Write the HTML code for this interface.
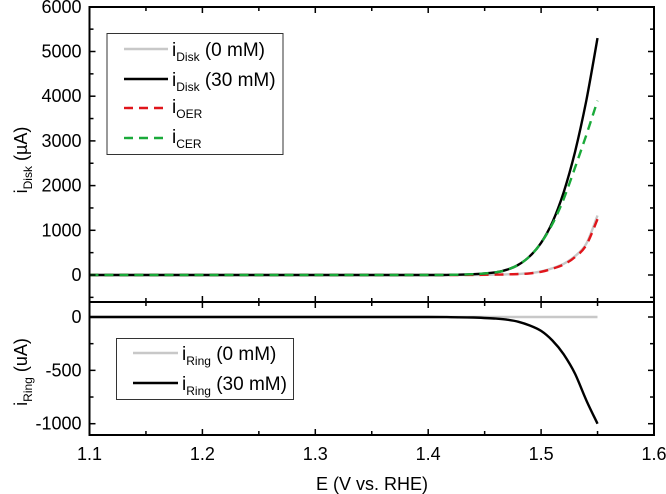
<!DOCTYPE html>
<html><head><meta charset="utf-8"><style>
body{margin:0;background:#fff}
svg{display:block;font-family:"Liberation Sans",Arial,sans-serif}
</style></head><body>
<svg id="c" width="666" height="494"></svg>
<script>
const xs=[1.10,1.20,1.30,1.40,1.42,1.44,1.46,1.47,1.48,1.49,1.50,1.51,1.52,1.53,1.54,1.55];
const disk30=[0,0,0,0,5,18,60,120,230,420,720,1180,1850,2750,3900,5300];
const disk0=[0,0,0,0,0,2,8,15,25,40,80,150,250,420,700,1330];
const iOER=[0,0,0,0,0,2,8,14,22,36,72,140,235,400,670,1250];
const iCER=[0,0,0,0,5,18,60,120,230,420,720,1140,1700,2400,3130,3900];
const ring0=[0,0,0,0,0,0,0,0,0,0,0,0,0,0,0,0];
const ring30=[0,0,0,0,-2,-5,-15,-25,-45,-80,-130,-220,-350,-530,-780,-1000];
const xTicks=[1.1,1.2,1.3,1.4,1.5,1.6];
const topTicks=[0,1000,2000,3000,4000,5000,6000];
const botTicks=[0,-500,-1000];

const NS="http://www.w3.org/2000/svg",svg=document.getElementById('c');
const L=89.5,R=654,T1=7,B1=302,T2=302,B2=435;
const X=v=>L+(v-1.1)/0.5*(R-L);
const Y1=v=>275-v*0.0447;
const Y2=v=>317-v*0.1067;
function el(t,a,p){const e=document.createElementNS(NS,t);for(const k in a)e.setAttribute(k,a[k]);(p||svg).appendChild(e);return e;}
function line(x1,y1,x2,y2,w){return el('line',{x1,y1,x2,y2,stroke:'#000','stroke-width':w||1.5});}
function smooth(pts){let d='M'+pts[0][0].toFixed(1)+','+pts[0][1].toFixed(1);
for(let i=0;i<pts.length-1;i++){const p0=pts[Math.max(0,i-1)],p1=pts[i],p2=pts[i+1],p3=pts[Math.min(pts.length-1,i+2)];
let c1x=p1[0]+(p2[0]-p0[0])/6,c1y=p1[1]+(p2[1]-p0[1])/6,c2x=p2[0]-(p3[0]-p1[0])/6,c2y=p2[1]-(p3[1]-p1[1])/6;
const lo=Math.min(p1[1],p2[1]),hi=Math.max(p1[1],p2[1]);c1y=Math.min(hi,Math.max(lo,c1y));c2y=Math.min(hi,Math.max(lo,c2y));
d+='C'+c1x.toFixed(1)+','+c1y.toFixed(1)+' '+c2x.toFixed(1)+','+c2y.toFixed(1)+' '+p2[0].toFixed(1)+','+p2[1].toFixed(1);}
return d;}
function pth(arr,Y,col,dash,name){const d=smooth(arr.map((v,i)=>[X(xs[i]),Y(v)]));
const p=el('path',{d,fill:'none',stroke:col,'stroke-width':2.4,'stroke-dasharray':dash||'none'});

}
pth(disk0,Y1,'#c8c8c8','', 'series-disk-0mm');
pth(iOER,Y1,'#e0151b','9,6','series-oer');
pth(disk30,Y1,'#000','', 'series-disk-30mm');
pth(iCER,Y1,'#1aaa3a','9,6','series-cer');
pth(ring0,Y2,'#c8c8c8','', 'series-ring-0mm');
pth(ring30,Y2,'#000','', 'series-ring-30mm');
el('rect',{x:L,y:T1,width:R-L,height:B2-T1,fill:'none',stroke:'#000','stroke-width':2});
line(L,B1,R,B1,2);
xTicks.forEach((v,i)=>{const x=X(v);
[[T1,1],[B1,-1],[B1,1],[B2,-1]].forEach(([y,s])=>line(x,y,x,y+s*6));
const t=el('text',{x,y:460,'text-anchor':'middle','font-size':18});t.textContent=v.toFixed(1);

if(i<xTicks.length-1){const xm=X(v+0.05);[[T1,1],[B1,-1],[B1,1],[B2,-1]].forEach(([y,s])=>line(xm,y,xm,y+s*4));}});
topTicks.forEach(v=>{const y=Y1(v);line(L,y,L+6,y);line(R,y,R-6,y);
const t=el('text',{x:L-8,y:y+6,'text-anchor':'end','font-size':18});t.textContent=v;

if(v<6000){const ym=Y1(v+500);line(L,ym,L+4,ym);line(R,ym,R-4,ym);}});
[-500].forEach(v=>{const y=Y1(v);line(L,y,L+4,y);line(R,y,R-4,y);});
botTicks.forEach(v=>{const y=Y2(v);line(L,y,L+6,y);line(R,y,R-6,y);
const t=el('text',{x:L-8,y:y+6,'text-anchor':'end','font-size':18});t.textContent=v;
});
[-250,-750].forEach(v=>{const y=Y2(v);line(L,y,L+4,y);line(R,y,R-4,y);});
</script>
<svg width="666" height="494" style="position:absolute;left:0;top:0">
<g font-family="Liberation Sans,Arial,sans-serif" font-size="18">
<text x="372" y="490" text-anchor="middle">E (V vs. RHE)</text>
<text transform="translate(27,160) rotate(-90)" text-anchor="middle">i<tspan font-size="12" dy="5">Disk</tspan><tspan dy="-5"> (µA)</tspan></text>
<text transform="translate(27,372) rotate(-90)" text-anchor="middle">i<tspan font-size="12" dy="5">Ring</tspan><tspan dy="-5"> (uA)</tspan></text>
<g>
<rect x="107" y="33.5" width="176" height="121" fill="#fff" stroke="#333" stroke-width="1"/>
<line x1="124" y1="49" x2="168" y2="49" stroke="#c8c8c8" stroke-width="2.4"/>
<text x="172" y="56" font-size="19">i<tspan font-size="12" dy="5">Disk</tspan><tspan dy="-5"> (0 mM)</tspan></text>
<line x1="124" y1="79" x2="168" y2="79" stroke="#000" stroke-width="2.4"/>
<text x="172" y="86" font-size="19">i<tspan font-size="12" dy="5">Disk</tspan><tspan dy="-5"> (30 mM)</tspan></text>
<line x1="124" y1="108" x2="168" y2="108" stroke="#e0151b" stroke-width="2.4" stroke-dasharray="9,6"/>
<text x="172" y="113" font-size="19">i<tspan font-size="12" dy="5">OER</tspan></text>
<line x1="124" y1="138" x2="168" y2="138" stroke="#1aaa3a" stroke-width="2.4" stroke-dasharray="9,6"/>
<text x="172" y="143" font-size="19">i<tspan font-size="12" dy="5">CER</tspan></text>
</g>
<g>
<rect x="116.5" y="338.5" width="177" height="61" fill="#fff" stroke="#333" stroke-width="1"/>
<line x1="133" y1="353" x2="178" y2="353" stroke="#c8c8c8" stroke-width="2.4"/>
<text x="182" y="360" font-size="19">i<tspan font-size="12" dy="5">Ring</tspan><tspan dy="-5"> (0 mM)</tspan></text>
<line x1="133" y1="383" x2="178" y2="383" stroke="#000" stroke-width="2.4"/>
<text x="182" y="390" font-size="19">i<tspan font-size="12" dy="5">Ring</tspan><tspan dy="-5"> (30 mM)</tspan></text>
</g>
</g></svg>
</body></html>
